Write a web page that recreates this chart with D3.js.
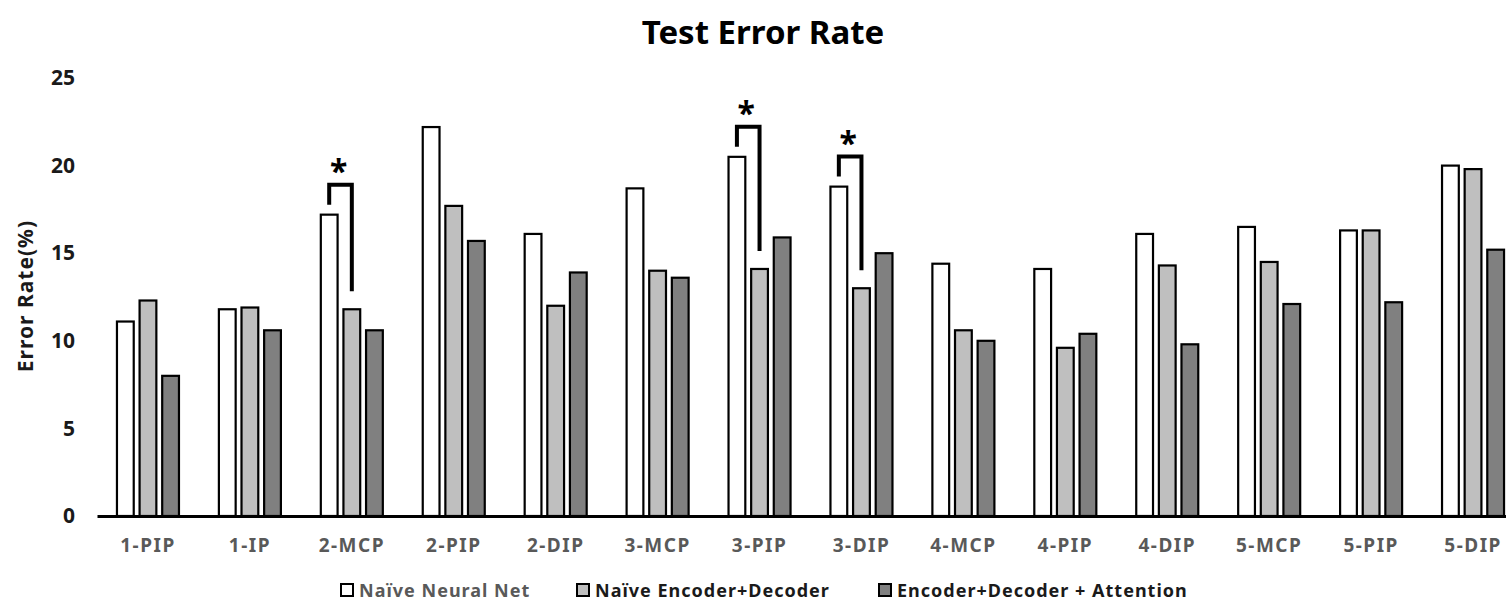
<!DOCTYPE html>
<html>
<head>
<meta charset="utf-8">
<style>
  body { margin: 0; background: #fff; }
  svg text { font-family: "Noto Sans", "Open Sans", sans-serif; font-weight: bold; }
</style>
</head>
<body>
<div class="chartContainer"></div>
<script src="https://d3js.org/d3.v7.min.js"></script>
<script>
    // data
    const categories = ['1-PIP', '1-IP', '2-MCP', '2-PIP', '2-DIP', '3-MCP', '3-PIP',
                        '3-DIP', '4-MCP', '4-PIP', '4-DIP', '5-MCP', '5-PIP', '5-DIP']
    const seriesNames = ['Naïve Neural Net', 'Naïve Encoder+Decoder', 'Encoder+Decoder + Attention']
    const naiveNet     = [11.1, 11.8, 17.2, 22.2, 16.1, 18.7, 20.5, 18.8, 14.4, 14.1, 16.1, 16.5, 16.3, 20.0]
    const naiveEncDec  = [12.3, 11.9, 11.8, 17.7, 12.0, 14.0, 14.1, 13.0, 10.6, 9.6, 14.3, 14.5, 16.3, 19.8]
    const encDecAttn   = [8.0, 10.6, 10.6, 15.7, 13.9, 13.6, 15.9, 15.0, 10.0, 10.4, 9.8, 12.1, 12.2, 15.2]
    const yTicks = [0, 5, 10, 15, 20, 25]
    const significant = ['2-MCP', '3-PIP', '3-DIP']

    const seriesValues = [naiveNet, naiveEncDec, encDecAttn]
    const data = categories.map((c, i) => ({
      category: c,
      values: seriesNames.map((s, k) => ({key: s, value: seriesValues[k][i]}))
    }))

    const svg = d3.select('.chartContainer')
                  .append('svg')
                  .attr('width', 1506)
                  .attr('height', 601)

    // scales
    const x0 = d3.scaleBand()
                 .domain(categories)
                 .range([97, 1524])
                 .paddingInner(0.372)
                 .paddingOuter(0.186)

    const x1 = d3.scaleBand()
                 .domain(seriesNames)
                 .range([0, x0.bandwidth()])
                 .paddingInner(0.17)

    const yScale = d3.scaleLinear()
                     .domain([0, 25])
                     .range([516, 78])

    const colorScale = d3.scaleOrdinal()
                         .domain(seriesNames)
                         .range(['#ffffff', '#bfbfbf', '#808080'])

    // title
    svg.append('text')
       .attr('x', 763)
       .attr('y', 44)
       .attr('text-anchor', 'middle')
       .attr('font-size', 33)
       .attr('fill', '#000')
       .text('Test Error Rate')

    // y axis (labels only)
    const yAxis = svg.append('g')
       .attr('transform', 'translate(97,0)')
       .call(d3.axisLeft(yScale).tickValues(yTicks).tickSize(0).tickPadding(22))
    yAxis.select('.domain').remove()
    yAxis.selectAll('text')
         .attr('font-size', 21)
         .attr('font-family', null)
         .attr('fill', '#1a1a1a')

    svg.append('text')
       .attr('transform', 'translate(33,296) rotate(-90)')
       .attr('text-anchor', 'middle')
       .attr('font-size', 21)
       .attr('letter-spacing', 1)
       .attr('fill', '#1a1a1a')
       .text('Error Rate(%)')

    // bars
    const groups = svg.selectAll('.group')
       .data(data)
       .join('g')
       .attr('class', 'group')
       .attr('transform', d => `translate(${x0(d.category)},0)`)

    groups.selectAll('rect')
       .data(d => d.values)
       .join('rect')
       .attr('x', d => x1(d.key) + 1)
       .attr('y', d => yScale(d.value))
       .attr('width', x1.bandwidth() - 2)
       .attr('height', d => yScale(0) - yScale(d.value))
       .attr('fill', d => colorScale(d.key))
       .attr('stroke', '#000')
       .attr('stroke-width', 2.2)

    // x axis
    const xAxis = svg.append('g')
       .attr('transform', 'translate(0,516)')
       .call(d3.axisBottom(x0).tickSize(0).tickSizeOuter(0).tickPadding(23))
    xAxis.select('.domain')
         .attr('stroke', '#000')
         .attr('stroke-width', 3)
    xAxis.selectAll('text')
         .attr('font-size', 19)
         .attr('letter-spacing', 1.5)
         .attr('font-family', null)
         .attr('fill', '#595959')

    // significance brackets between the first two series
    const brackets = svg.selectAll('.bracket')
       .data(data.filter(d => significant.includes(d.category)))
       .join('g')
       .attr('class', 'bracket')

    brackets.append('path')
       .attr('d', d => {
         const xa = x0(d.category) + x1(seriesNames[0]) + x1.bandwidth() / 2
         const xb = x0(d.category) + x1(seriesNames[1]) + x1.bandwidth() / 2
         const ya = yScale(d.values[0].value)
         const yb = yScale(d.values[1].value)
         const top = ya - 30
         return `M${xa},${ya - 10}V${top}H${xb}V${yb - 18}`
       })
       .attr('fill', 'none')
       .attr('stroke', '#000')
       .attr('stroke-width', 4)

    brackets.append('text')
       .attr('x', d => x0(d.category) + x1(seriesNames[0]) + x1.bandwidth())
       .attr('y', d => yScale(d.values[0].value) - 32)
       .attr('text-anchor', 'middle')
       .attr('font-size', 32)
       .attr('fill', '#000')
       .text('*')

    // legend
    const legendX = [341, 577, 879]
    const legend = svg.selectAll('.legend')
       .data(seriesNames)
       .join('g')
       .attr('class', 'legend')
       .attr('transform', (d, i) => `translate(${legendX[i]},584)`)

    legend.append('rect')
       .attr('width', 12)
       .attr('height', 12)
       .attr('fill', d => colorScale(d))
       .attr('stroke', '#000')
       .attr('stroke-width', 2)

    legend.append('text')
       .attr('x', 18)
       .attr('y', 13)
       .attr('font-size', 18)
       .attr('letter-spacing', 1)
       .attr('fill', (d, i) => i === 0 ? '#595959' : '#1a1a1a')
       .text(d => d)
</script>
</body>
</html>
